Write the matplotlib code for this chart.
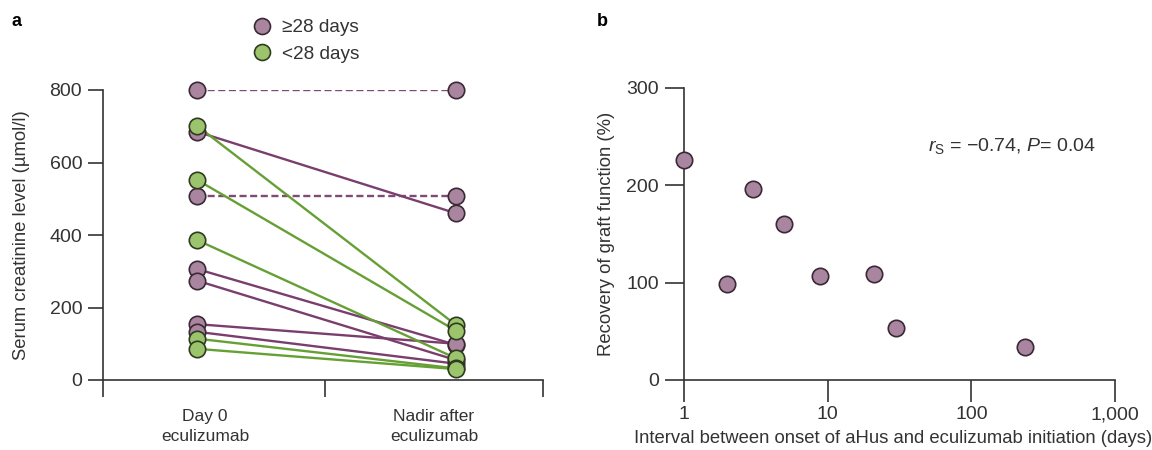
import matplotlib
matplotlib.use("Agg")
import matplotlib.pyplot as plt
from matplotlib.lines import Line2D

plt.rcParams["font.family"] = ["Liberation Sans", "DejaVu Sans"]
plt.rcParams["mathtext.fontset"] = "custom"
plt.rcParams["mathtext.rm"] = "Liberation Sans"
plt.rcParams["mathtext.it"] = "Liberation Sans:italic"

# panel a: serum creatinine (umol/l), day 0 -> nadir after eculizumab
late_day0 = [800, 508, 685, 306, 274, 154, 133]     # >=28 days
late_nadir = [800, 508, 460, 97, 55, 100, 45]
late_dashed = [True, True, False, False, False, False, False]
early_day0 = [701, 552, 386, 114, 86]               # <28 days
early_nadir = [152, 136, 60, 32, 30]

categories = ["Day 0\neculizumab", "Nadir after\neculizumab"]

# panel b: interval (days) vs recovery of graft function (%)
interval_days = [1, 2, 3, 5, 8.9, 21, 30, 235]
recovery_pct = [226, 99, 196, 160, 107, 109, 53, 34]

purple_fill, purple_edge, purple_line = "#a9859f", "#3a2834", "#7a3e6e"
green_fill, green_edge, green_line = "#9cc46c", "#2e3b21", "#66a035"
txt = "#333333"

fig = plt.figure(figsize=(11.52, 4.5), dpi=100)

## PANEL A
ax1 = fig.add_axes([103 / 1152, 70 / 450, 440 / 1152, 290 / 450])
x0, x1 = 0.214, 0.802

for a, b, dashed in zip(late_day0, late_nadir, late_dashed):
    if dashed:
        ax1.plot([x0, x1], [a, b], color="#7f4a74", lw=1.7, ls=(0, (3, 1.5)), zorder=2)
    else:
        ax1.plot([x0, x1], [a, b], color=purple_line, lw=1.7, zorder=2)
for a, b in zip(early_day0, early_nadir):
    ax1.plot([x0, x1], [a, b], color=green_line, lw=1.7, zorder=2)

mk = dict(marker="o", ms=11.8, mew=1.2, ls="none", clip_on=False)
ax1.plot([x0] * len(late_day0), late_day0, mfc=purple_fill, mec=purple_edge, zorder=3, **mk)
ax1.plot([x1] * len(late_nadir), late_nadir, mfc=purple_fill, mec=purple_edge, zorder=3, **mk)
ax1.plot([x0] * len(early_day0), early_day0, mfc=green_fill, mec=green_edge, zorder=4, **mk)
ax1.plot([x1] * len(early_nadir), early_nadir, mfc=green_fill, mec=green_edge, zorder=4, **mk)

ax1.set_xlim(0, 1)
ax1.set_ylim(0, 800)
ax1.set_yticks([0, 200, 400, 600, 800])
ax1.set_xticks([0.232, 0.752])
ax1.set_xticklabels(categories, fontsize=12.5, color=txt, linespacing=1.4)
ax1.set_xticks([0, 0.505, 1], minor=True)
ax1.tick_params(axis="x", which="major", length=0, pad=21)
ax1.tick_params(axis="x", which="minor", length=12, width=1.2, color=txt)
ax1.tick_params(axis="y", length=11, width=1.2, color=txt, labelsize=14, labelcolor=txt, pad=4)
ax1.set_ylabel("Serum creatinine level (µmol/l)", fontsize=13.3, color=txt)
ax1.yaxis.set_label_coords(-0.165, 0.5)
for s in ["top", "right"]:
    ax1.spines[s].set_visible(False)
for s in ["left", "bottom"]:
    ax1.spines[s].set_linewidth(1.2)
    ax1.spines[s].set_color(txt)

handles = [
    Line2D([], [], marker="o", ms=11.5, mew=1.2, ls="none", mfc=purple_fill, mec=purple_edge),
    Line2D([], [], marker="o", ms=11.5, mew=1.2, ls="none", mfc=green_fill, mec=green_edge),
]
fig.legend(handles, ["≥28 days", "<28 days"], loc="upper left",
           bbox_to_anchor=(251 / 1152, 1 - 19 / 450), frameon=False, fontsize=13.7,
           handlelength=1.2, handletextpad=0.45, labelspacing=0.5, labelcolor=txt,
           borderpad=0, borderaxespad=0)

## PANEL B
ax2 = fig.add_axes([684 / 1152, 70 / 450, 431 / 1152, 292 / 450])
ax2.plot(interval_days, recovery_pct, mfc=purple_fill, mec=purple_edge, zorder=3, **mk)
ax2.set_xscale("log")
ax2.set_xlim(1, 1000)
ax2.set_ylim(0, 300)
ax2.set_xticks([1, 10, 100, 1000])
ax2.set_xticklabels(["1", "10", "100", "1,000"])
ax2.xaxis.set_minor_locator(matplotlib.ticker.NullLocator())
ax2.set_yticks([0, 100, 200, 300])
ax2.tick_params(axis="x", length=16, width=1.2, color=txt, labelsize=14, labelcolor=txt, pad=3)
ax2.tick_params(axis="y", length=14, width=1.2, color=txt, labelsize=14, labelcolor=txt, pad=4)
ax2.set_xlabel("Interval between onset of aHus and eculizumab initiation (days)",
               fontsize=13.3, color=txt)
ax2.xaxis.set_label_coords(0.485, -0.17)
ax2.set_ylabel("Recovery of graft function (%)", fontsize=13.3, color=txt)
ax2.yaxis.set_label_coords(-0.16, 0.5)
for s in ["top", "right"]:
    ax2.spines[s].set_visible(False)
for s in ["left", "bottom"]:
    ax2.spines[s].set_linewidth(1.2)
    ax2.spines[s].set_color(txt)

ax2.text(0.565, 0.785, r"$r_\mathrm{S}$ = −0.74, $P$= 0.04", transform=ax2.transAxes,
         fontsize=14, color=txt)

fig.text(12 / 1152, 1 - 22 / 450, "a", fontsize=13, weight="bold", va="center")
fig.text(597 / 1152, 1 - 22 / 450, "b", fontsize=13, weight="bold", va="center")

fig.savefig("out.png", dpi=100)
